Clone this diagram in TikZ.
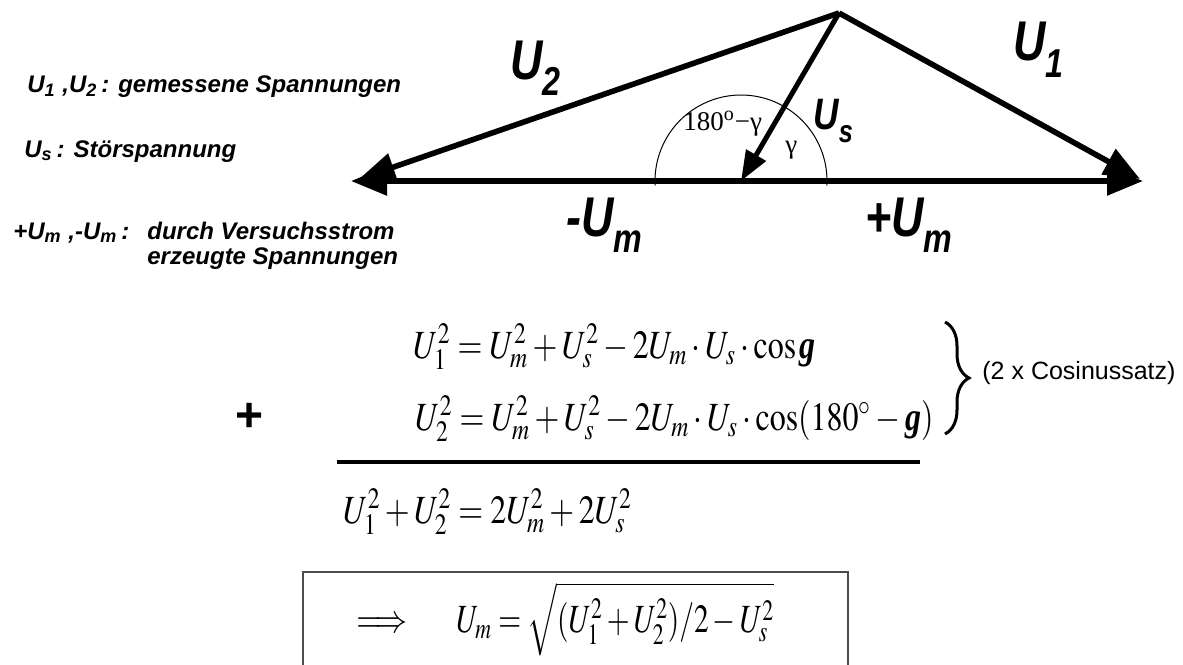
\documentclass[tikz,border=0pt]{standalone}
\usepackage{graphicx}
\usepackage{mathptmx}
\usepackage{fontspec}
\setmainfont{Liberation Serif}
\setsansfont{Liberation Sans}
\usetikzlibrary{arrows.meta,decorations.pathreplacing}

\newcommand\gsym{\mbox{\bfseries\itshape g}}
\newcommand\lowidx[1]{\raisebox{-0.3em}{\scalebox{0.72}{#1}}}

\tikzset{
  vec/.style={line width=2.8pt,-{Triangle[length=18pt,width=14pt]}},
  bigsym/.style={font=\fontsize{28}{28}\selectfont\sffamily\bfseries\itshape,inner sep=0pt,anchor=base west,xscale=0.8},
  legend/.style={font=\fontsize{12}{12}\selectfont\sffamily\bfseries\itshape,inner sep=0pt,anchor=base west},
  eqn/.style={font=\fontsize{20}{20}\selectfont,inner sep=0pt,anchor=base west,xscale=0.8},
  anglbl/.style={font=\fontsize{13.5}{13.5}\selectfont,inner sep=0pt,anchor=base west},
}

\begin{document}
\begin{tikzpicture}[x=0.5pt,y=-0.5pt]
  \useasboundingbox (0,0) rectangle (1183,664);
  % Zeigerdiagramm
  \coordinate (top) at (839,13);
  \coordinate (mid) at (741,181);
  \coordinate (left) at (351,181);
  \coordinate (right) at (1143,181);
  \coordinate (tipU2) at (359,179);
  \coordinate (tipU1) at (1140,179);
  \draw[line width=0.5pt] (mid) ++(3:86) arc[start angle=3,end angle=-183,radius=86];
  \draw[vec] (mid) -- (left);
  \draw[vec] (mid) -- (right);
  \draw[vec] (top) -- (tipU2);
  \draw[vec] (top) -- (tipU1);
  \draw[line width=2.5pt,-{Triangle[length=15pt,width=11pt]}] (top) -- (mid);
  \node[bigsym] (lblU2) at (510,79) {U\lowidx{2}};
  \node[bigsym] (lblU1) at (1013,61) {U\lowidx{1}};
  \node[bigsym,font=\fontsize{22}{22}\selectfont\sffamily\bfseries\itshape] (lblUs) at (813,129) {U\lowidx{s}};
  \node[bigsym] (lblUmm) at (566,236) {-U\lowidx{m}};
  \node[bigsym] (lblUmp) at (865,236) {+U\lowidx{m}};
  \node[anglbl] (angB) at (683,130) {180\textsuperscript{o}−γ};
  \node[anglbl] (angA) at (785,153) {γ};
  % Legende
  \node[legend] (leg1) at (27,92) {U\textsubscript{1} ,U\textsubscript{2}\,: gemessene Spannungen};
  \node[legend] (leg2) at (24,157) {U\textsubscript{s}\,: Störspannung};
  \node[legend] (leg3) at (13,239) {+U\textsubscript{m} ,-U\textsubscript{m}\,:};
  \node[legend] (leg3b) at (147,239) {durch Versuchsstrom};
  \node[legend] (leg4) at ([yshift=-12.5pt]leg3b.base west) {erzeugte Spannungen};
  % Rechnung
  \node[eqn] (eq1) at (413,358) {$U_1^2 = U_m^2 + U_s^2 - 2U_m\cdot U_s\cdot\cos\gsym$};
  \node[eqn] (eq2) at (415,430) {$U_2^2 = U_m^2 + U_s^2 - 2U_m\cdot U_s\cdot\cos(180^\circ-\gsym)$};
  \node[font=\fontsize{24}{24}\selectfont\sffamily\bfseries,inner sep=0pt] (plus) at (250,417) {+};
  \draw[line width=1.7pt] (337,462) -- (920,462);
  \draw[decorate,decoration={brace,amplitude=12pt},line width=1.5pt] (945,322) -- (945,434);
  \node[font=\fontsize{12.5}{12.5}\selectfont\sffamily,anchor=west,inner sep=0pt] (cosnote) at (982,373) {(2 x Cosinussatz)};
  \node[eqn] (eq3) at (343,523) {$U_1^2 + U_2^2 = 2U_m^2 + 2U_s^2$};
  \draw[line width=0.8pt,black!70] (303,572) rectangle (848,700);
  \node[eqn] (impl) at (356,632) {$\Longrightarrow$};
  \node[eqn,xscale=0.92] (eq4) at (456,632) {$U_m = \sqrt{(U_1^2 + U_2^2)/2 - U_s^2}$};
\end{tikzpicture}
\end{document}
